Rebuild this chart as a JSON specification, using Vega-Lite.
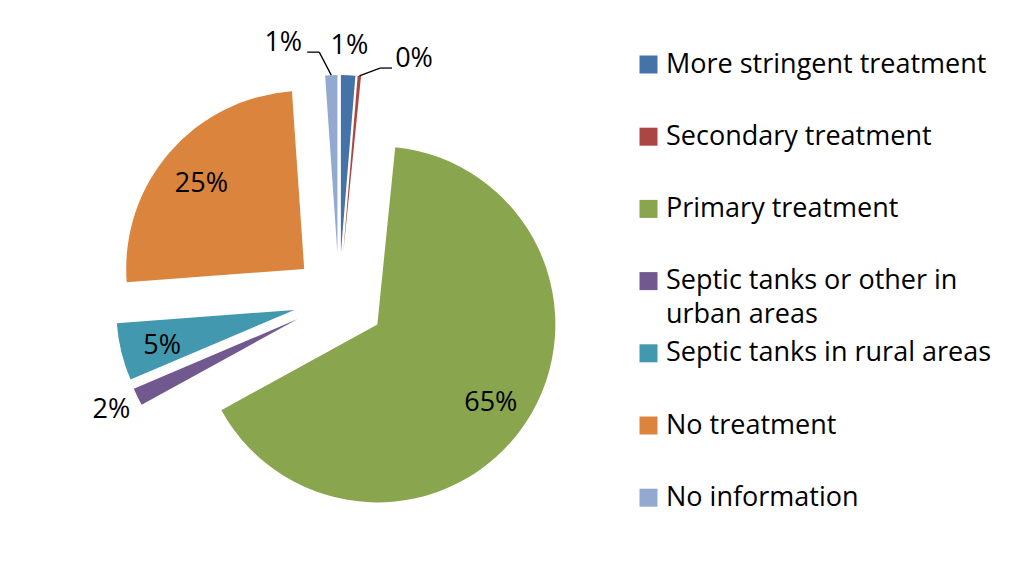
{
  "$schema": "https://vega.github.io/schema/vega-lite/v6.json",
  "width": 656,
  "height": 564,
  "padding": {"left": 11, "top": 17, "right": 0, "bottom": 0},
  "autosize": {"type": "pad"},
  "background": "white",
  "config": {"view": {"stroke": null}, "font": "Open Sans"},
  "data": {
    "values": [
      {"category": "More stringent treatment", "value": 1.3},
      {"category": "Secondary treatment", "value": 0.3},
      {"category": "Primary treatment", "value": 65.4},
      {"category": "Septic tanks or other in urban areas", "value": 1.6},
      {"category": "Septic tanks in rural areas", "value": 5.2},
      {"category": "No treatment", "value": 25.1},
      {"category": "No information", "value": 1.1}
    ]
  },
  "transform": [
    {"window": [{"op": "sum", "field": "value", "as": "cum"}], "frame": [null, 0], "ignorePeers": true},
    {"joinaggregate": [{"op": "sum", "field": "value", "as": "total"}]},
    {"calculate": "(datum.cum - datum.value) / datum.total", "as": "a0"},
    {"calculate": "datum.cum / datum.total", "as": "a1"},
    {"calculate": "(datum.cum - datum.value / 2) / datum.total", "as": "mid"},
    {"calculate": "datum.value / datum.total", "as": "share"},
    {"calculate": "46 * sin(2 * PI * datum.mid)", "as": "dx"},
    {"calculate": "-46 * cos(2 * PI * datum.mid)", "as": "dy"}
  ],
  "layer": [
    {
      "mark": {"type": "arc", "radius": 178},
      "encoding": {
        "theta": {"field": "a0", "type": "quantitative", "stack": null, "scale": {"domain": [0, 1]}},
        "theta2": {"field": "a1"},
        "xOffset": {"field": "dx", "type": "quantitative", "scale": null},
        "yOffset": {"field": "dy", "type": "quantitative", "scale": null},
        "color": {
          "field": "category",
          "type": "nominal",
          "scale": {
            "domain": ["More stringent treatment", "Secondary treatment", "Primary treatment", "Septic tanks or other in urban areas", "Septic tanks in rural areas", "No treatment", "No information"],
            "range": ["#4572A7", "#AA4643", "#89A54E", "#71588F", "#4198AF", "#DB843D", "#93A9CF"]
          },
          "legend": {
            "title": null,
            "orient": "none",
            "legendX": 624,
            "legendY": 34,
            "symbolType": "square",
            "symbolSize": 324,
            "symbolStrokeWidth": 0,
            "symbolOpacity": 1,
            "labelFont": "Open Sans",
            "labelFontSize": 27,
            "labelColor": "#000000",
            "labelOffset": 4,
            "labelLimit": 400,
            "gridAlign": "all",
            "rowPadding": 10.2,
            "labelExpr": "datum.label == 'Septic tanks or other in urban areas' ? ['Septic tanks or other in', 'urban areas'] : datum.label",
            "encode": {"labels": {"update": {"lineHeight": {"value": 34}}}}
          }
        }
      }
    },
    {
      "transform": [{"filter": "datum.share >= 0.05"}],
      "mark": {"type": "text", "radius": 136, "dy": 4, "fontSize": 27, "font": "Open Sans", "color": "#000000"},
      "encoding": {
        "theta": {"field": "mid", "type": "quantitative", "stack": null},
        "text": {"field": "share", "type": "quantitative", "format": ".0%"},
        "xOffset": {"field": "dx", "type": "quantitative", "scale": null},
        "yOffset": {"field": "dy", "type": "quantitative", "scale": null}
      }
    },
    {
      "transform": [{"filter": "datum.share < 0.05 && datum.category != 'Secondary treatment' && datum.category != 'No information'"}],
      "mark": {"type": "text", "radius": 207, "fontSize": 27, "font": "Open Sans", "color": "#000000"},
      "encoding": {
        "theta": {"field": "mid", "type": "quantitative", "stack": null},
        "text": {"field": "share", "type": "quantitative", "format": ".0%"},
        "xOffset": {"field": "dx", "type": "quantitative", "scale": null},
        "yOffset": {"field": "dy", "type": "quantitative", "scale": null}
      }
    },
    {
      "transform": [
        {"filter": "datum.category == 'Secondary treatment'"},
        {"calculate": "width / 2 + datum.dx + 178 * sin(2 * PI * datum.mid)", "as": "ex"},
        {"calculate": "height / 2 + datum.dy - 178 * cos(2 * PI * datum.mid)", "as": "ey"},
        {"calculate": "width / 2 + datum.dx + 207 * sin(2 * PI * datum.mid) + 52 - 34", "as": "kx"},
        {"calculate": "height / 2 + datum.dy - 207 * cos(2 * PI * datum.mid) + 12 + 9", "as": "ky"},
        {"calculate": "datum.kx + 12", "as": "tx"}
      ],
      "layer": [
        {
          "mark": {"type": "text", "radius": 207, "dx": 52, "dy": 12, "fontSize": 27, "font": "Open Sans", "color": "#000000"},
          "encoding": {
            "theta": {"field": "mid", "type": "quantitative", "stack": null},
            "text": {"field": "share", "type": "quantitative", "format": ".0%"},
            "xOffset": {"field": "dx", "type": "quantitative", "scale": null},
            "yOffset": {"field": "dy", "type": "quantitative", "scale": null}
          }
        },
        {
          "mark": {"type": "rule", "color": "#000000", "strokeWidth": 1.3},
          "encoding": {
            "x": {"field": "ex", "type": "quantitative", "scale": null},
            "y": {"field": "ey", "type": "quantitative", "scale": null},
            "x2": {"field": "kx"},
            "y2": {"field": "ky"}
          }
        },
        {
          "mark": {"type": "rule", "color": "#000000", "strokeWidth": 1.3},
          "encoding": {
            "x": {"field": "kx", "type": "quantitative", "scale": null},
            "y": {"field": "ky", "type": "quantitative", "scale": null},
            "x2": {"field": "tx"},
            "y2": {"field": "ky"}
          }
        }
      ]
    },
    {
      "transform": [
        {"filter": "datum.category == 'No information'"},
        {"calculate": "width / 2 + datum.dx + 178 * sin(2 * PI * datum.mid)", "as": "ex"},
        {"calculate": "height / 2 + datum.dy - 178 * cos(2 * PI * datum.mid)", "as": "ey"},
        {"calculate": "width / 2 + datum.dx + 207 * sin(2 * PI * datum.mid) - 47 + 36", "as": "kx"},
        {"calculate": "height / 2 + datum.dy - 207 * cos(2 * PI * datum.mid) - 3 + 9", "as": "ky"},
        {"calculate": "datum.kx - 12", "as": "tx"}
      ],
      "layer": [
        {
          "mark": {"type": "text", "radius": 207, "dx": -47, "dy": -3, "fontSize": 27, "font": "Open Sans", "color": "#000000"},
          "encoding": {
            "theta": {"field": "mid", "type": "quantitative", "stack": null},
            "text": {"field": "share", "type": "quantitative", "format": ".0%"},
            "xOffset": {"field": "dx", "type": "quantitative", "scale": null},
            "yOffset": {"field": "dy", "type": "quantitative", "scale": null}
          }
        },
        {
          "mark": {"type": "rule", "color": "#000000", "strokeWidth": 1.3},
          "encoding": {
            "x": {"field": "ex", "type": "quantitative", "scale": null},
            "y": {"field": "ey", "type": "quantitative", "scale": null},
            "x2": {"field": "kx"},
            "y2": {"field": "ky"}
          }
        },
        {
          "mark": {"type": "rule", "color": "#000000", "strokeWidth": 1.3},
          "encoding": {
            "x": {"field": "kx", "type": "quantitative", "scale": null},
            "y": {"field": "ky", "type": "quantitative", "scale": null},
            "x2": {"field": "tx"},
            "y2": {"field": "ky"}
          }
        }
      ]
    }
  ]
}
